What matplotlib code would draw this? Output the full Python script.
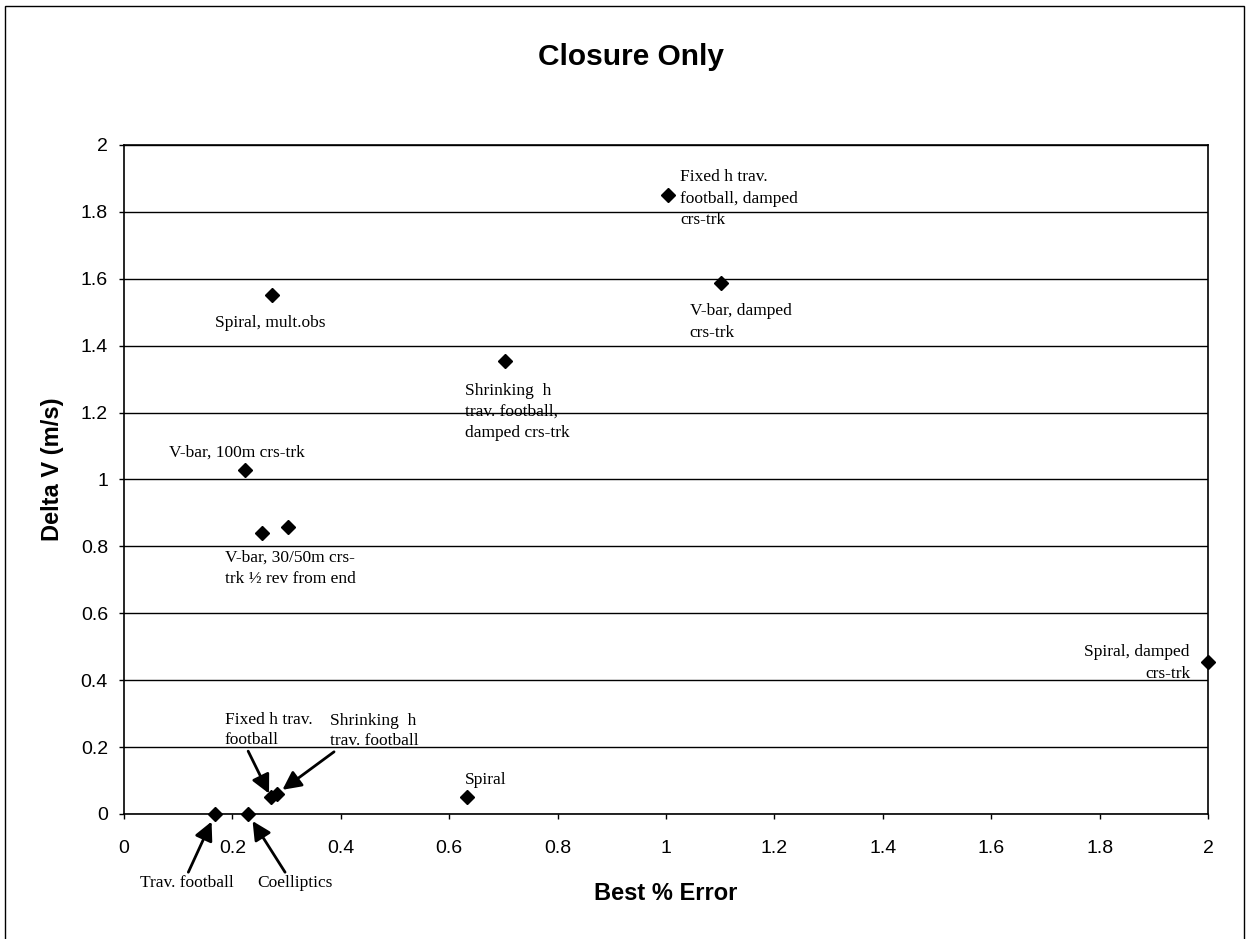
import numpy as np
import matplotlib
matplotlib.use("Agg")
import matplotlib.pyplot as plt
from matplotlib.patches import Rectangle

# data
best_err = [0.168, 0.229, 0.271, 0.282, 0.633, 0.224, 0.255, 0.303, 0.273, 0.703, 1.004, 1.101, 2.0]
delta_v = [0.0, 0.0, 0.050, 0.060, 0.051, 1.028, 0.840, 0.858, 1.552, 1.354, 1.851, 1.587, 0.454]
point_labels = ["Trav. football", "Coelliptics", "Fixed h trav.\nfootball",
                "Shrinking  h\ntrav. football", "Spiral", "V-bar, 100m crs-trk",
                "V-bar, 30/50m crs-\ntrk \u00bd rev from end", "", "Spiral, mult.obs",
                "Shrinking  h\ntrav. football,\ndamped crs-trk",
                "Fixed h trav.\nfootball, damped\ncrs-trk", "V-bar, damped\ncrs-trk",
                "Spiral, damped\ncrs-trk"]
xticks = [0, 0.2, 0.4, 0.6, 0.8, 1, 1.2, 1.4, 1.6, 1.8, 2]
xtick_labels = ["0", "0.2", "0.4", "0.6", "0.8", "1", "1.2", "1.4", "1.6", "1.8", "2"]
yticks = [0, 0.2, 0.4, 0.6, 0.8, 1, 1.2, 1.4, 1.6, 1.8, 2]
ytick_labels = ["0", "0.2", "0.4", "0.6", "0.8", "1", "1.2", "1.4", "1.6", "1.8", "2"]

# label placement: offset in pixels from the point, alignment, arrow (relpos, shrinkB)
placement = {
    0: ((-28, -69), "center", ((0.5, 1.0), 6)),
    1: ((47, -69), "center", ((0.39, 1.0), 6)),
    2: ((-46, 67), "left", ((0.25, 0.0), 3)),
    3: ((53, 63), "left", ((0.09, 0.0), 5)),
    4: ((-2, 17), "left", None),
    5: ((-76, 17), "left", None),
    6: ((-37, -35), "left", None),
    8: ((-57, -28), "left", None),
    9: ((-40, -51), "left", None),
    10: ((12, -4), "left", None),
    11: ((-31, -39), "left", None),
    12: ((-18, -1), "right", None),
}

plt.rcParams['font.family'] = ['Liberation Sans', 'DejaVu Sans']
serif = ['Liberation Serif', 'DejaVu Serif']

fig = plt.figure(figsize=(12.46, 9.39), dpi=100)
ax = fig.add_axes([124 / 1246, 1 - 814 / 939, 1084 / 1246, 669 / 939])

ax.plot(best_err, delta_v, linestyle='none', marker='D', ms=7.5,
        color='black', clip_on=False, zorder=5)

for i, (dx, dy), ha, arrow in [(k,) + v for k, v in placement.items()]:
    txt = point_labels[i]
    if arrow is None:
        ax.annotate(txt, (best_err[i], delta_v[i]), xytext=(dx, dy),
                    textcoords='offset pixels', ha=ha, va='center',
                    multialignment=ha, fontsize=12.5, family=serif,
                    linespacing=1.45, zorder=6)
    else:
        relpos, shrink = arrow
        ax.annotate(txt, (best_err[i], delta_v[i]), xytext=(dx, dy),
                    textcoords='offset pixels', ha=ha, va='center',
                    fontsize=12.5, family=serif, linespacing=1.35,
                    annotation_clip=False, zorder=6,
                    arrowprops=dict(arrowstyle='-|>', color='black', lw=2,
                                    mutation_scale=28, relpos=relpos,
                                    shrinkA=0, shrinkB=shrink))

ax.set_xlim(0, 2)
ax.set_ylim(0, 2)
ax.set_xticks(xticks)
ax.set_xticklabels(xtick_labels)
ax.set_yticks(yticks)
ax.set_yticklabels(ytick_labels)
ax.tick_params(direction='out', length=3.6, width=1, labelsize=14)
ax.tick_params(axis='x', pad=15)
ax.tick_params(axis='y', pad=8)
ax.grid(axis='y', color='black', linewidth=1)
ax.set_axisbelow(True)
for s in ax.spines.values():
    s.set_linewidth(1.2)
    s.set_color('black')

ax.set_xlabel("Best % Error", fontsize=17, fontweight='bold', va='center')
ax.xaxis.set_label_coords(0.5, (814 - 893) / 669)
ax.set_ylabel("Delta V (m/s)", fontsize=17, fontweight='bold', va='center')
ax.yaxis.set_label_coords((52 - 124) / 1084, 0.515)

fig.text(631 / 1246, 1 - 65 / 939, "Closure Only", fontsize=21.5,
         fontweight='bold', ha='center', va='baseline')

# chart-area border
fig.patches.append(Rectangle((5 / 1246, -0.01), 1239 / 1246, 1.01 - 6 / 939,
                             transform=fig.transFigure, fill=False,
                             edgecolor='black', linewidth=1))

fig.savefig("out.png", dpi=100)
